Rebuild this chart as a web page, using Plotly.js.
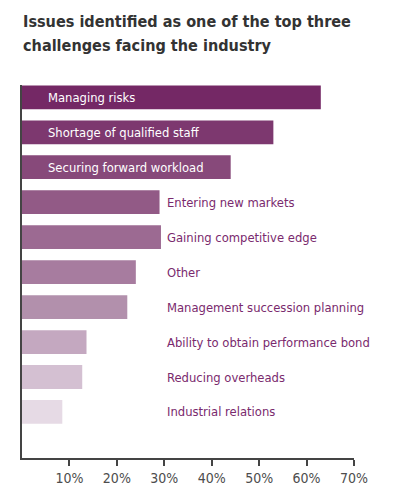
<!DOCTYPE html>
<html>
<head>
<meta charset="utf-8">
<script src="https://cdn.plot.ly/plotly-3.0.1.min.js"></script>
<style>html,body{margin:0;padding:0;background:#fff;}#chart{width:396px;height:500px;}</style>
</head>
<body>
<div id="chart"></div>
<script>
// Data (top to bottom as shown)
var categories = [
  "Managing risks",
  "Shortage of qualified staff",
  "Securing forward workload",
  "Entering new markets",
  "Gaining competitive edge",
  "Other",
  "Management succession planning",
  "Ability to obtain performance bond",
  "Reducing overheads",
  "Industrial relations"
];
var values = [63, 53, 44, 29, 29.3, 24, 22.2, 13.6, 12.7, 8.5];
var barColors = ["#742865", "#7d386f", "#87497a", "#925a86", "#9c6a92",
                 "#a77c9f", "#b290ac", "#c4a8c0", "#d4c0d2", "#e6dae5"];
var tickValues = [10, 20, 30, 40, 50, 60, 70];
var tickLabels = ["10%", "20%", "30%", "40%", "50%", "60%", "70%"];
var titleLines = ["Issues identified as one of the top three",
                  "challenges facing the industry"];
var insideCount = 3;

var FAMILY = "'DejaVu Sans Condensed', 'DejaVu Sans', sans-serif";

// size a font so that a sample text reaches a target pixel width
function fitSize(text, weight, target) {
  var ctx = document.createElement("canvas").getContext("2d");
  ctx.font = weight + " 100px " + FAMILY;
  var w = ctx.measureText(text).width;
  return Math.round(1000 * target / w) / 10;
}
var labelSize = fitSize("Management succession planning", "normal", 198);
var tickSize = fitSize("70%", "normal", 28);
var titleSize = fitSize(titleLines[0], "bold", 329);

var n = categories.length;
var yPos = categories.map(function (c, i) { return n - 1 - i; });

var trace = {
  type: "bar",
  orientation: "h",
  x: values,
  y: yPos,
  width: 0.68,
  marker: { color: barColors, line: { width: 0 } },
  hoverinfo: "skip"
};

var plotH = 500 - 85 - 42;
var annotations = categories.map(function (c, i) {
  var inside = i < insideCount;
  return {
    xref: "paper", yref: "y",
    x: inside ? 0.072 : 0.432,
    y: yPos[i],
    xanchor: "left", yanchor: "middle",
    text: c,
    showarrow: false,
    font: { family: FAMILY, size: labelSize, color: inside ? "#ffffff" : "#7a2a6e" }
  };
});
var titleCenters = [21.5, 45.5];
titleLines.forEach(function (t, k) {
  annotations.push({
    xref: "paper", yref: "paper",
    x: (21 - 22) / 332, y: 1 + (85 - titleCenters[k]) / plotH,
    xanchor: "left", yanchor: "middle",
    text: "<b>" + t + "</b>",
    showarrow: false,
    font: { family: FAMILY, size: titleSize, color: "#333333" }
  });
});

var layout = {
  width: 396, height: 500,
  margin: { l: 22, r: 42, t: 85, b: 42 },
  paper_bgcolor: "#ffffff", plot_bgcolor: "#ffffff",
  showlegend: false,
  xaxis: {
    range: [0, 70],
    tickmode: "array",
    tickvals: tickValues,
    ticktext: tickLabels,
    ticks: "outside", ticklen: 6, tickwidth: 2, tickcolor: "#444444",
    showline: true, linewidth: 2, linecolor: "#444444",
    showgrid: false, zeroline: false,
    tickfont: { family: FAMILY, size: tickSize, color: "#4d4d4d" },
    fixedrange: true
  },
  yaxis: {
    range: [-1.317, 9.352],
    showticklabels: false, ticks: "",
    showline: true, linewidth: 2, linecolor: "#444444",
    showgrid: false, zeroline: false,
    fixedrange: true
  },
  annotations: annotations
};

Plotly.newPlot("chart", [trace], layout, { staticPlot: true, displayModeBar: false });
</script>
</body>
</html>
